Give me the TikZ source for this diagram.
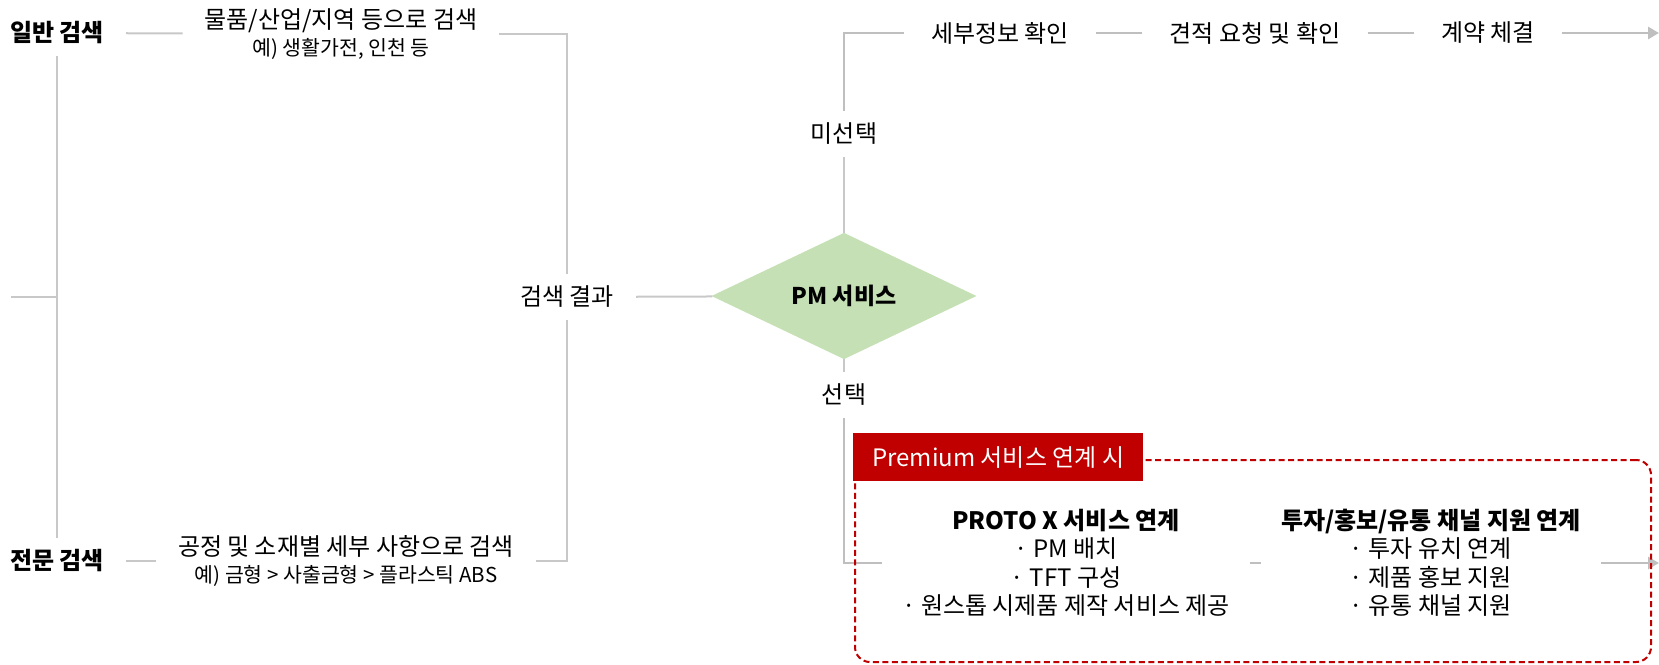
\documentclass[tikz,border=0pt]{standalone}
\usepackage{fontspec}
\setmainfont{Noto Sans CJK KR}
\usepackage{tikz}
\usetikzlibrary{arrows.meta,shapes.geometric,positioning}
\definecolor{linegray}{HTML}{C8C8C8}
\definecolor{flowgray}{HTML}{BFBFBF}
\definecolor{pmgreen}{HTML}{C5E0B4}
\definecolor{premred}{HTML}{C00000}
\tikzstyle{every node}=[inner xsep=22pt, inner ysep=12pt, font=\fontsize{24}{28.5}\selectfont]

\begin{document}
\begin{tikzpicture}[
    x=1pt, y=-1pt,
    search/.style={
        font=\fontsize{24}{28.5}\selectfont\bfseries
        },
    example/.style={
        align=center,
        font=\fontsize{24}{27}\selectfont
        },
    label/.style={
        inner ysep=12pt
        },
    stage/.style={
        inner xsep=27pt
        },
    decision/.style={
        diamond,
        inner sep=0pt,
        minimum width=265pt,
        minimum height=116pt,
        fill=pmgreen,
        font=\fontsize{23}{28.5}\selectfont\bfseries
        },
    tag/.style={
        anchor=north west,
        fill=premred,
        text=white,
        inner sep=0pt,
        minimum width=290pt,
        minimum height=48pt
        },
    panel/.style={
        anchor=north west,
        draw=premred,
        line width=2pt,
        dash pattern=on 6pt off 3.5pt,
        rounded corners=15pt,
        minimum width=796pt,
        minimum height=202pt
        },
    block/.style={
        align=center,
        inner xsep=20pt,
        inner ysep=4pt
        },
    link/.style={
        draw=linegray,
        line width=2pt
        },
    flow/.style={
        draw=flowgray,
        line width=2.8pt
        },
  ]
  \useasboundingbox (0,0) rectangle (1659,664);
  % Search
  \node[search] (general) at (57,33) {일반 검색};
  \node[search] (expert) at (57,561) {전문 검색};
  \node[example] (gdesc) at (341,34) {물품/산업/지역 등으로 검색\\{\fontsize{20.5}{27}\selectfont 예) 생활가전, 인천 등}};
  \node[example] (edesc) at (346,561) {공정 및 소재별 세부 사항으로 검색\\{\fontsize{20.5}{27}\selectfont 예) 금형 > 사출금형 > 플라스틱 ABS}};
  \node[label] (result) at (567,297) {검색 결과};
  \coordinate (entry) at (11,297);
  % PM service
  \node[decision] (pm) at (844,296) {PM 서비스};
  \node[label] (unsel) at (844,134) {미선택};
  \node[label] (sel) at (844,395) {선택};
  % Not selected
  \node[stage] (info) at (1000,33) {세부정보 확인};
  \node[stage] (quote) at (1255,33) {견적 요청 및 확인};
  \node[stage] (contract) at (1488,33) {계약 체결};
  \coordinate (topend) at (1659,33);
  % Selected
  \node[block] (proto) at (1066,563) {\textbf{PROTO X 서비스 연계}\\· PM 배치\\· TFT 구성\\· 원스톱 시제품 제작 서비스 제공};
  \node[block] (invest) at (1431,563) {\textbf{투자/홍보/유통 채널 지원 연계}\\· 투자 유치 연계\\· 제품 홍보 지원\\· 유통 채널 지원};
  \coordinate (bottomend) at (1659,563);

  \draw[link] (general) -- (expert);
  \draw[link] (entry) -- (entry -| general.south);
  \draw[link] (general) -- (gdesc);
  \draw[link] (expert) -- (edesc);
  \draw[link] (gdesc.east) -| (result.north);
  \draw[link] (edesc.east) -| (result.south);
  \draw[link] (result) -- (pm);
  \draw[link] (pm) -- (unsel);
  \draw[link] (pm) -- (sel);
  \draw[flow] (unsel.north) |- (info.west);
  \draw[flow] (info) -- (quote);
  \draw[flow] (quote) -- (contract);
  \draw[flow, -{Triangle[length=11pt,width=12pt]}] (contract) -- (topend);
  \draw[flow] (sel.south) |- (proto.west);
  \draw[flow] (proto) -- (invest);
  \draw[flow, -{Triangle[length=11pt,width=12pt]}] (invest) -- (bottomend);

  % Premium
  \node[panel] (frame) at (854,459) {};
  \node[tag] (premium) at (853,433) {Premium 서비스 연계 시};
\end{tikzpicture}
\end{document}
